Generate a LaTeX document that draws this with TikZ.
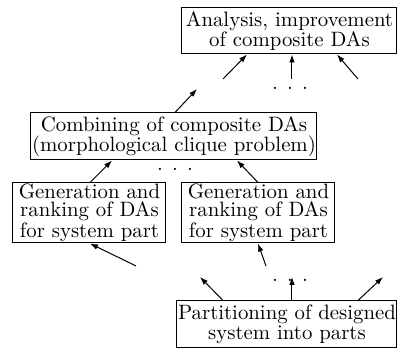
\documentclass[tikz,border=0pt]{standalone}
\usetikzlibrary{arrows.meta}
\begin{document}
\begin{tikzpicture}[x=0.5pt,y=-0.5pt,
  box/.style={draw,line width=0.5pt,inner sep=0pt,align=center,
    font=\fontsize{10.4}{10}\selectfont},
  dots/.style={inner sep=0pt,anchor=base,font=\fontsize{10.4}{10}\selectfont},
  arr/.style={line width=0.5pt,-{Latex[length=4pt,width=2.8pt]}}]
\useasboundingbox (0,0) rectangle (398,351);
\node[box,minimum width=107.5pt,minimum height=23pt] (top) at (289.5,31) {Analysis, improvement\\of composite DAs};
\node[box,minimum width=143pt,minimum height=23.5pt] (comb) at (174,136.5) {Combining of composite DAs\\(morphological clique problem)};
\node[box,minimum width=76.5pt,minimum height=30pt,font=\fontsize{10.4}{9.2}\selectfont] (g1) at (89.5,213) {Generation and\\ranking of DAs\\for system part};
\node[box,minimum width=76.5pt,minimum height=30pt,font=\fontsize{10.4}{9.2}\selectfont] (g2) at (258.5,213) {Generation and\\ranking of DAs\\for system part};
\node[box,minimum width=110pt,minimum height=23.5pt] (part) at (287,324.5) {Partitioning of designed\\system into parts};
\node[dots] (d1) at (290,90) {. . .};
\node[dots] (d2) at (175,171) {. . .};
\node[dots] (d3) at (290,282) {. . .};
% free ends
\coordinate (t1) at (223,79);
\coordinate (t2) at (292,79);
\coordinate (t3) at (358,79);
\coordinate (c0) at (197,89);
\coordinate (p1) at (136,266);
\coordinate (p2) at (266,266);
\coordinate (q1) at (200,277);
\coordinate (q2) at (292,277);
\coordinate (q3) at (383,277);
% arrows into top
\draw[arr] (t1) -- (247,54 |- top.south);
\draw[arr] (t2) -- (292,54 |- top.south);
\draw[arr] (t3) -- (337,54 |- top.south);
% combining to top
\draw[arr] (comb.north -| 175,0) -- (c0);
% gen to combining
\draw[arr] (g1.north -| 90,0) -- (112,160 |- comb.south);
\draw[arr] (g2.north -| 258,0) -- (237,160 |- comb.south);
% into gens
\draw[arr] (p1) -- (90,243 |- g1.south);
\draw[arr] (p2) -- (258,243 |- g2.south);
% from partition
\draw[arr] (part.north -| 223,0) -- (q1);
\draw[arr] (part.north -| 292,0) -- (q2);
\draw[arr] (part.north -| 358,0) -- (q3);
\end{tikzpicture}
\end{document}
